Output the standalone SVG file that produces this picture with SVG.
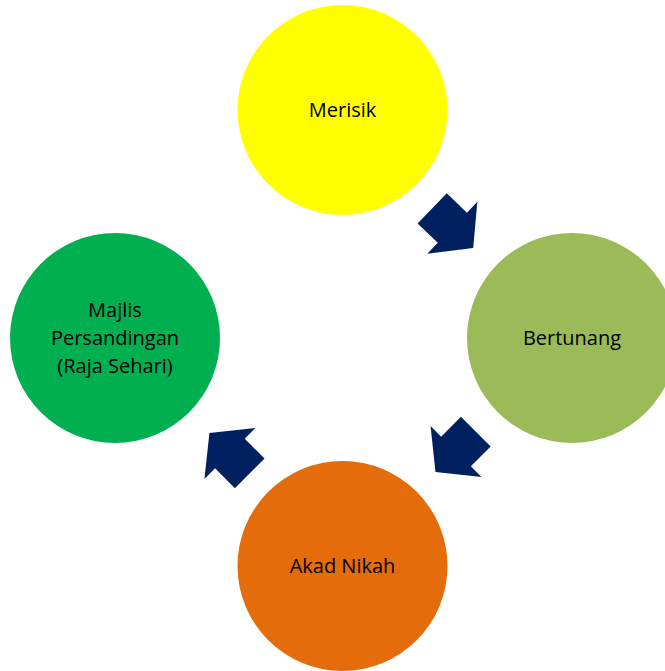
<svg xmlns="http://www.w3.org/2000/svg" width="665" height="671" viewBox="0 0 665 671">
<defs>
<style>
.lbl{font-family:"Open Sans","Liberation Sans",sans-serif;font-size:20px;fill:#000;text-anchor:middle}
.arr{fill:#002060}
</style>
<polygon id="blk" points="0,-21 28,-21 28,-36 57,0 28,36 28,21 0,21"/>
</defs>
<rect width="665" height="671" fill="#fff"/>
<g id="merisik"><circle cx="342.5" cy="110" r="105" fill="#FFFF00"/><text class="lbl" x="342.5" y="117">Merisik</text></g>
<g id="bertunang"><circle cx="572" cy="338" r="105" fill="#9BBB59"/><text class="lbl" x="572" y="345">Bertunang</text></g>
<g id="akad"><circle cx="342.5" cy="566" r="105" fill="#E46C0A"/><text class="lbl" x="342.5" y="573">Akad Nikah</text></g>
<g id="majlis"><circle cx="115" cy="338" r="105" fill="#00B050"/><text class="lbl" x="115" y="317">Majlis</text><text class="lbl" x="115" y="345">Persandingan</text><text class="lbl" x="115" y="373">(Raja Sehari)</text></g>
<g id="connectors" class="arr">
<use href="#blk" transform="translate(432.2,208.3) rotate(44)"/>
<use href="#blk" transform="translate(475.8,431.7) rotate(135)"/>
<use href="#blk" transform="translate(249.7,473.3) rotate(225)"/>
</g>
</svg>
